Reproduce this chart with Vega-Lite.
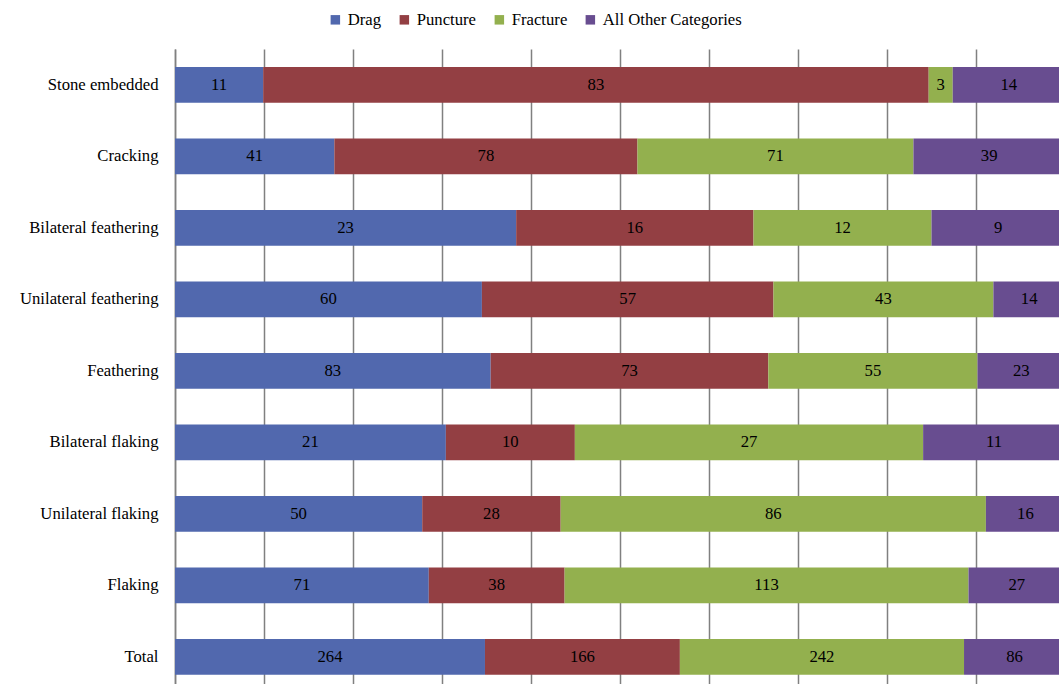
{
  "$schema": "https://vega.github.io/schema/vega-lite/v6.json",
  "autosize": {"type": "none"},
  "padding": {"left": 175, "top": 49, "right": 0, "bottom": 0},
  "width": 890,
  "height": 643.5,
  "config": {
    "font": "Liberation Serif",
    "view": {"stroke": null},
    "background": "white"
  },
  "data": {
    "values": [
      {"cause": "Stone embedded", "cat": "Drag", "n": 11},
      {"cause": "Stone embedded", "cat": "Puncture", "n": 83},
      {"cause": "Stone embedded", "cat": "Fracture", "n": 3},
      {"cause": "Stone embedded", "cat": "All Other Categories", "n": 14},
      {"cause": "Cracking", "cat": "Drag", "n": 41},
      {"cause": "Cracking", "cat": "Puncture", "n": 78},
      {"cause": "Cracking", "cat": "Fracture", "n": 71},
      {"cause": "Cracking", "cat": "All Other Categories", "n": 39},
      {"cause": "Bilateral feathering", "cat": "Drag", "n": 23},
      {"cause": "Bilateral feathering", "cat": "Puncture", "n": 16},
      {"cause": "Bilateral feathering", "cat": "Fracture", "n": 12},
      {"cause": "Bilateral feathering", "cat": "All Other Categories", "n": 9},
      {"cause": "Unilateral feathering", "cat": "Drag", "n": 60},
      {"cause": "Unilateral feathering", "cat": "Puncture", "n": 57},
      {"cause": "Unilateral feathering", "cat": "Fracture", "n": 43},
      {"cause": "Unilateral feathering", "cat": "All Other Categories", "n": 14},
      {"cause": "Feathering", "cat": "Drag", "n": 83},
      {"cause": "Feathering", "cat": "Puncture", "n": 73},
      {"cause": "Feathering", "cat": "Fracture", "n": 55},
      {"cause": "Feathering", "cat": "All Other Categories", "n": 23},
      {"cause": "Bilateral flaking", "cat": "Drag", "n": 21},
      {"cause": "Bilateral flaking", "cat": "Puncture", "n": 10},
      {"cause": "Bilateral flaking", "cat": "Fracture", "n": 27},
      {"cause": "Bilateral flaking", "cat": "All Other Categories", "n": 11},
      {"cause": "Unilateral flaking", "cat": "Drag", "n": 50},
      {"cause": "Unilateral flaking", "cat": "Puncture", "n": 28},
      {"cause": "Unilateral flaking", "cat": "Fracture", "n": 86},
      {"cause": "Unilateral flaking", "cat": "All Other Categories", "n": 16},
      {"cause": "Flaking", "cat": "Drag", "n": 71},
      {"cause": "Flaking", "cat": "Puncture", "n": 38},
      {"cause": "Flaking", "cat": "Fracture", "n": 113},
      {"cause": "Flaking", "cat": "All Other Categories", "n": 27},
      {"cause": "Total", "cat": "Drag", "n": 264},
      {"cause": "Total", "cat": "Puncture", "n": 166},
      {"cause": "Total", "cat": "Fracture", "n": 242},
      {"cause": "Total", "cat": "All Other Categories", "n": 86}
    ]
  },
  "transform": [
    {"calculate": "indexof(['Drag','Puncture','Fracture','All Other Categories'], datum.cat)", "as": "ord"},
    {"stack": "n", "groupby": ["cause"], "sort": [{"field": "ord", "order": "ascending"}], "offset": "normalize", "as": ["x0", "x1"]},
    {"calculate": "(datum.x0 + datum.x1) / 2", "as": "xm"}
  ],
  "encoding": {
    "y": {
      "field": "cause",
      "type": "nominal",
      "sort": ["Stone embedded", "Cracking", "Bilateral feathering", "Unilateral feathering", "Feathering", "Bilateral flaking", "Unilateral flaking", "Flaking", "Total"],
      "scale": {"paddingInner": 0.5, "paddingOuter": 0.25},
      "axis": {
        "title": null,
        "ticks": false,
        "domain": true,
        "domainColor": "#808080",
        "domainWidth": 1.5,
        "labelFont": "Liberation Serif",
        "labelFontSize": 16.7,
        "labelColor": "#000000",
        "labelPadding": 17
      }
    }
  },
  "layer": [
    {
      "mark": {"type": "bar"},
      "encoding": {
        "x": {
          "field": "x0",
          "type": "quantitative",
          "scale": {"domain": [0, 1]},
          "axis": {
            "title": null,
            "labels": false,
            "domain": false,
            "ticks": false,
            "grid": true,
            "tickCount": 10,
            "gridColor": "#808080",
            "gridWidth": 1.5
          }
        },
        "x2": {"field": "x1"},
        "color": {
          "field": "cat",
          "type": "nominal",
          "scale": {
            "domain": ["Drag", "Puncture", "Fracture", "All Other Categories"],
            "range": ["#5168AE", "#933F43", "#93B04E", "#684D90"]
          },
          "legend": {
            "title": null,
            "orient": "none",
            "direction": "horizontal",
            "legendX": 152,
            "legendY": -38,
            "symbolType": "square",
            "symbolSize": 90,
            "symbolStrokeWidth": 0,
            "labelFont": "Liberation Serif",
            "labelFontSize": 16.7,
            "labelColor": "#000000",
            "labelOffset": 4,
            "columnPadding": 14
          }
        }
      }
    },
    {
      "mark": {"type": "text", "font": "Liberation Serif", "fontSize": 16.7, "color": "#000000", "baseline": "middle", "align": "center"},
      "encoding": {
        "x": {"field": "xm", "type": "quantitative"},
        "text": {"field": "n", "type": "quantitative"}
      }
    }
  ]
}
